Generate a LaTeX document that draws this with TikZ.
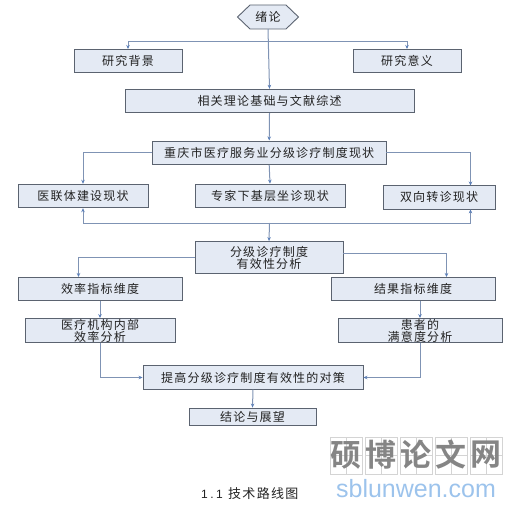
\documentclass[tikz,border=0pt]{standalone}
\usepackage{fontspec}
\setmainfont{Liberation Sans}
\newfontfamily\cjk[LetterSpace=10]{Noto Sans CJK SC}
\newfontfamily\cjkwm[]{Noto Sans CJK SC Bold}
\usetikzlibrary{arrows.meta, calc}
\definecolor{boxfill}{HTML}{E4EAF4}
\definecolor{boxline}{HTML}{5B6370}
\definecolor{linkblue}{HTML}{7F93B4}
\definecolor{tipblue}{HTML}{5B7FB8}
\definecolor{txtdark}{HTML}{222222}
\definecolor{wmgray}{HTML}{858585}
\definecolor{wmgrid}{HTML}{D4D4D4}
\definecolor{wmblue}{HTML}{9CC3EC}

\begin{document}
\begin{tikzpicture}[
  x=1pt, y=-1pt,
  link/.style={-{Stealth[length=4pt, width=3.5pt, color=tipblue]}, linkblue, line width=1pt},
  plain/.style={linkblue, line width=1pt},
  lbl/.style={txtdark, font=\cjk\fontsize{12}{12}\selectfont, align=center},
  box/.style={lbl, draw=boxline, fill=boxfill, line width=0.9pt, inner sep=0pt,
    minimum width=#1, minimum height=23.5pt},
]

% Page
\useasboundingbox (0,0) rectangle (519,508);

% Boxes, top to bottom
\draw[draw=boxline, fill=boxfill, line width=0.9pt]
  (237.5,17) -- (250,5) -- (286,5) -- (298.5,17) -- (286,29) -- (250,29) -- cycle;
\node[lbl, inner sep=0pt, minimum width=61pt, minimum height=24pt] (intro) at (268,17) {绪论};
\node[box=108pt] (background) at (128,61.2) {研究背景};
\node[box=108pt] (meaning) at (407,61.2) {研究意义};
\node[box=289pt] (theory) at (269.5,101) {相关理论基础与文献综述};
\node[box=233.5pt] (status) at (269.2,152.7) {重庆市医疗服务业分级诊疗制度现状};

\node[box=130pt] (alliance) at (83,196) {医联体建设现状};
\node[box=150pt] (expert) at (270,195.8) {专家下基层坐诊现状};
\node[box=112pt] (referral) at (439,197.2) {双向转诊现状};

\node[box=148pt, minimum height=32pt] (analysis) at (269,257.5) {分级诊疗制度\\有效性分析};
\node[box=164pt] (efficiency) at (100,288.8) {效率指标维度};
\node[box=164pt] (outcome) at (413,288.8) {结果指标维度};
\node[box=150pt, minimum height=24pt] (internal) at (100,330.5) {医疗机构内部\\效率分析};
\node[box=164pt, minimum height=24pt] (satisfied) at (420,330.5) {患者的\\满意度分析};
\node[box=220pt] (measure) at (253,377.5) {提高分级诊疗制度有效性的对策};
\node[box=127pt, minimum height=17pt] (ending) at (252.5,416.5) {结论与展望};

% Free ends of the branches
\coordinate (tophub) at (268,41.5);
\coordinate (midhub) at (269.5,223);

% Connectors
\draw[link] (intro.south) -- (theory.north);
\draw[link] (tophub -| background.north) -- (background.north);
\draw[link] (tophub -| meaning.north) -- (meaning.north);
\draw[plain] (tophub -| background.north) -- (tophub -| meaning.north);
\draw[link] (theory.south) -- (status.north);

\draw[link] (status.west) -| (alliance.north);
\draw[link] (status.south) -- (expert.north);
\draw[link] (status.east) -| (470.5,185.5);

\draw[plain] (midhub -| alliance.south) -- (midhub -| 470.5,0);
\draw[link] (midhub -| alliance.south) -- (alliance.south);
\draw[link] (midhub -| 470.5,0) -- (referral.south -| 470.5,0);
\draw[link] (midhub) -- (analysis.north);

\draw[link] (analysis.west) -| (78.5,277);
\draw[link] ($(analysis.east)+(0,-3.8)$) -| (446.5,277);
\draw[link] (efficiency.south) -- (internal.north);
\draw[link] (outcome.south -| satisfied.north) -- (satisfied.north);
\draw[link] (internal.south) |- (measure.west);
\draw[link] (satisfied.south) |- (measure.east);
\draw[link] (measure.south) -- (ending.north);

% Caption
\node[txtdark, font=\addfontfeature{LetterSpace=20}\fontsize{12}{14}\selectfont, anchor=west, inner sep=0pt] (capnum) at (201,494) {1.1};
\node[txtdark, font=\cjk\fontsize{13}{14}\selectfont, anchor=west, inner sep=0pt] (captext) at (228,494) {技术路线图};

% Watermark
\foreach \cx/\ch in {346/硕, 381/博, 416/论, 451/文, 486/网}{
  \draw[wmgrid, line width=0.8pt] (\cx-16,437) rectangle (\cx+16,474);
  \draw[wmgrid, line width=0.5pt] (\cx,437) -- (\cx,474) (\cx-16,455.5) -- (\cx+16,455.5);
  \node[wmgray, font=\cjkwm\fontsize{31}{31}\selectfont, inner sep=0pt] at (\cx,455) {\ch};
}
\node[wmblue, font=\fontsize{25}{26}\selectfont, inner sep=0pt] (wmurl) at (416,489) {sblunwen.com};

\end{tikzpicture}
\end{document}
